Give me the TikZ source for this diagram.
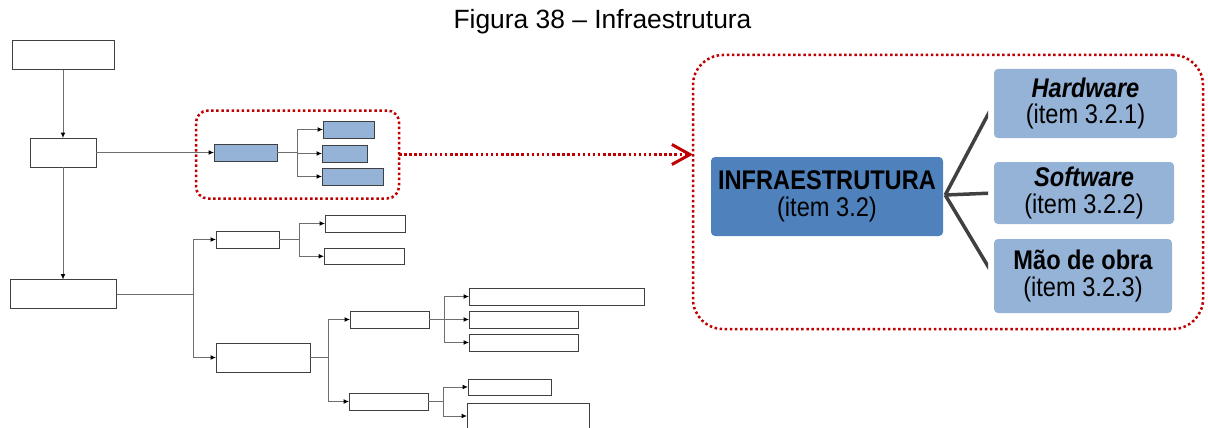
\documentclass[tikz,border=0pt]{standalone}
\usepackage{fontspec}
\setmainfont{Liberation Sans}
\newfontfamily\cnd[FakeStretch=0.875]{Liberation Sans}
\usetikzlibrary{arrows.meta,calc}
\definecolor{linegray}{HTML}{6E6E6E}
\definecolor{edgegray}{HTML}{404040}
\definecolor{paleblue}{HTML}{95B3D7}
\definecolor{midblue}{HTML}{4F81BD}
\definecolor{dotred}{HTML}{C00000}
\definecolor{spokegray}{HTML}{404040}

\begin{document}
\begin{tikzpicture}[x=1pt,y=-1pt,
  blk/.style={draw=edgegray, line width=1pt, fill=white, inner sep=0pt, outer sep=0pt},
  bluebox/.style={blk, fill=paleblue},
  link/.style={draw=linegray, line width=1pt},
  arr/.style={link, -{Latex[length=5.5pt,width=5pt,color=black]}},
  redframe/.style={draw=dotred, line width=2.5pt, dash pattern=on 2.5pt off 2.6pt, inner sep=0pt, outer sep=0pt},
  topic/.style={fill=paleblue, rounded corners=4pt, inner sep=0pt, align=center,
                font=\cnd\fontsize{27}{26.5}\selectfont},
  spoke/.style={draw=spokegray, line width=3.5pt}
]
\useasboundingbox (0,0) rectangle (1208,428);
\clip (0,0) rectangle (1208,428);

% caption
\node[anchor=base, inner sep=0pt, font=\fontsize{26.4}{30}\selectfont] (title) at (602.5,29) {Figura 38 – Infraestrutura};

% ---------- outline tree (left) ----------
\node[blk, minimum width=102, minimum height=29] (A) at (63,55.5) {};
\node[blk, minimum width=66, minimum height=29] (B) at (63,152.5) {};
\node[blk, minimum width=106.5, minimum height=29] (E) at (63.25,294) {};

\node[bluebox, minimum width=63, minimum height=17] (C) at (245.5,152.5) {};
\node[bluebox, minimum width=51, minimum height=17] (D1) at (348.5,129.5) {};
\node[bluebox, minimum width=45, minimum height=17] (D2) at (344.5,153.5) {};
\node[bluebox, minimum width=61, minimum height=17] (D3) at (352.5,176.5) {};

\node[blk, minimum width=63, minimum height=17] (F1) at (247.5,239.5) {};
\node[blk, minimum width=94, minimum height=29] (F2) at (263,357.5) {};
\node[blk, minimum width=80.5, minimum height=17] (G1) at (365.25,223.5) {};
\node[blk, minimum width=80, minimum height=16.5] (G2) at (364,256.25) {};
\node[blk, minimum width=79, minimum height=17] (H1) at (389.5,319.5) {};
\node[blk, minimum width=79, minimum height=17] (H2) at (388.5,401.5) {};
\node[blk, minimum width=175, minimum height=17] (I1) at (556.5,296.5) {};
\node[blk, minimum width=109, minimum height=17] (I2) at (523.5,319.5) {};
\node[blk, minimum width=109, minimum height=17] (I3) at (523.5,342.5) {};
\node[blk, minimum width=83, minimum height=16] (J1) at (509.5,387) {};
\node[blk, minimum width=122, minimum height=26] (J2) at (528,416) {};

% branching points
\coordinate (kC) at (297,152.5);
\coordinate (kE) at (193,294);
\coordinate (kF1) at (299,239.5);
\coordinate (kF2) at (328,357.5);
\coordinate (kH1) at (444,319.5);
\coordinate (kH2) at (443,401.5);

\draw[arr] (A.south) -- (B.north);
\draw[arr] (B.south) -- (B.south |- E.north);
\draw[arr] (B.east) -- (C.west);

\draw[link] (C.east) -- (kC);
\foreach \n in {D1,D2,D3} \draw[arr] (kC) |- (\n.west);

\draw[link] (E.east) -- (kE);
\foreach \n in {F1,F2} \draw[arr] (kE) |- (\n.west);

\draw[link] (F1.east) -- (kF1);
\foreach \n in {G1,G2} \draw[arr] (kF1) |- (\n.west);

\draw[link] (F2.east) -- (kF2);
\foreach \n in {H1,H2} \draw[arr] (kF2) |- (\n.west);

\draw[link] (H1.east) -- (kH1);
\foreach \n in {I1,I2,I3} \draw[arr] (kH1) |- (\n.west);

\draw[link] (H2.east) -- (kH2);
\foreach \n in {J1,J2} \draw[arr] (kH2) |- (\n.west);

% ---------- highlighted group and its enlargement ----------
\node[redframe, rounded corners=12pt, minimum width=203, minimum height=88] (grp) at (297.5,154.5) {};
\node[redframe, rounded corners=30pt, minimum width=510, minimum height=274] (big) at (948,192) {};

\draw[redframe, -{Straight Barb[length=18pt,width=20pt,line width=3pt]}]
  (grp.east) -- (grp.east -| big.west);

% ---------- enlarged detail ----------
\node[topic, fill=midblue, minimum width=232, minimum height=79] (infra) at (827,196.5)
  {{\bfseries INFRAESTRUTURA}\\(item 3.2)};
\node[topic, minimum width=183, minimum height=69] (hw) at (1085.5,103.5)
  {{\bfseries\itshape Hardware}\\(item 3.2.1)};
\node[topic, minimum width=180, minimum height=62] (sw) at (1084,193)
  {{\bfseries\itshape Software}\\(item 3.2.2)};
\node[topic, minimum width=178, minimum height=74] (mo) at (1083,276)
  {{\bfseries Mão de obra}\\(item 3.2.3)};

\begin{scope}
  \clip (940,50) rectangle (988,330);
  \foreach \n in {hw,sw,mo}
    \draw[spoke] ($(infra.east)+(2,-1.5)$) -- (\n.west);
\end{scope}
\end{tikzpicture}
\end{document}
